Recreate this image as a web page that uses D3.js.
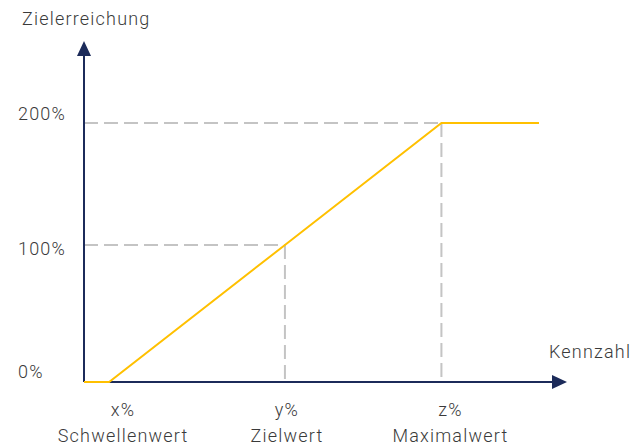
<!DOCTYPE html>
<html><head><meta charset="utf-8">
<script src="https://cdn.jsdelivr.net/npm/d3@7"></script>
<style>
html,body{margin:0;padding:0;background:#fff;}
text{font-family:Roboto,"Liberation Sans",sans-serif;font-weight:300;fill:#3a3a3a;letter-spacing:1.2px;}
</style></head>
<body>
<svg id="c" width="631" height="446"></svg>
<script>
// Data
const kennzahl = [0, 5.2, 41.6, 74.0, 94.2];      // Kennzahl (relative units)
const zielerreichung = [0, 0, 100, 200, 200];      // Zielerreichung in %
const yTicks = [200, 100, 0];
const yTickLabels = ["200%", "100%", "0%"];
const xMarks = [5.2, 41.6, 74.0];
const xMarkLabels = ["x%", "y%", "z%"];
const xMarkNames = ["Schwellenwert", "Zielwert", "Maximalwert"];
const refLevels = [100, 200];
const refAt = [41.6, 74.0];

const svg = d3.select("#c");
const x = d3.scaleLinear().domain([0, 100]).range([84, 567]);
const y = d3.scaleLinear().domain([0, 100, 200]).range([382, 245, 123]);
const axisColor = "#1c2b5a";

// dashed reference lines
refLevels.forEach((lv, i) => {
  svg.append("line").attr("x1", x(0)).attr("x2", x(refAt[i]))
    .attr("y1", y(lv)).attr("y2", y(lv))
    .attr("stroke", "#c4c4c4").attr("stroke-width", 2).attr("stroke-dasharray", "14,6");
  svg.append("line").attr("x1", x(refAt[i])).attr("x2", x(refAt[i]))
    .attr("y1", y(lv)).attr("y2", y(0))
    .attr("stroke", "#c4c4c4").attr("stroke-width", 2).attr("stroke-dasharray", "14,6");
});

// axes
svg.append("line").attr("x1", x(0)).attr("x2", x(0)).attr("y1", y(0)).attr("y2", 52)
  .attr("stroke", axisColor).attr("stroke-width", 2);
svg.append("path").attr("d", "M" + x(0) + ",41 L" + (x(0) - 7) + ",56 L" + (x(0) + 7) + ",56 Z").attr("fill", axisColor);
svg.append("line").attr("x1", x(0)).attr("x2", 556).attr("y1", y(0)).attr("y2", y(0))
  .attr("stroke", axisColor).attr("stroke-width", 2);
svg.append("path").attr("d", "M" + x(100) + "," + y(0) + " L" + (x(100) - 15) + "," + (y(0) - 7) + " L" + (x(100) - 15) + "," + (y(0) + 7) + " Z").attr("fill", axisColor);

// curve
const line = d3.line().x((d, i) => x(kennzahl[i])).y((d, i) => y(zielerreichung[i]));
svg.append("path").datum(kennzahl).attr("d", line)
  .attr("fill", "none").attr("stroke", "#ffc000").attr("stroke-width", 2);

// y tick labels
const yDy = [-9, 4, -10];
yTicks.forEach((t, i) => {
  svg.append("text").attr("x", 18).attr("y", y(t) + yDy[i]).attr("dy", "0.35em")
    .attr("font-size", 18).text(yTickLabels[i]);
});

// x mark labels
const xDx = [14, 2, 9];
xMarks.forEach((m, i) => {
  svg.append("text").attr("x", x(m) + xDx[i]).attr("y", 416).attr("text-anchor", "middle")
    .attr("font-size", 18).text(xMarkLabels[i]);
  svg.append("text").attr("x", x(m) + xDx[i]).attr("y", 442).attr("text-anchor", "middle")
    .attr("font-size", 18).text(xMarkNames[i]);
});

// axis titles
svg.append("text").attr("x", 22).attr("y", 25).attr("font-size", 18).text("Zielerreichung");
svg.append("text").attr("x", 549).attr("y", 358).attr("font-size", 18).text("Kennzahl");
</script>
</body></html>
